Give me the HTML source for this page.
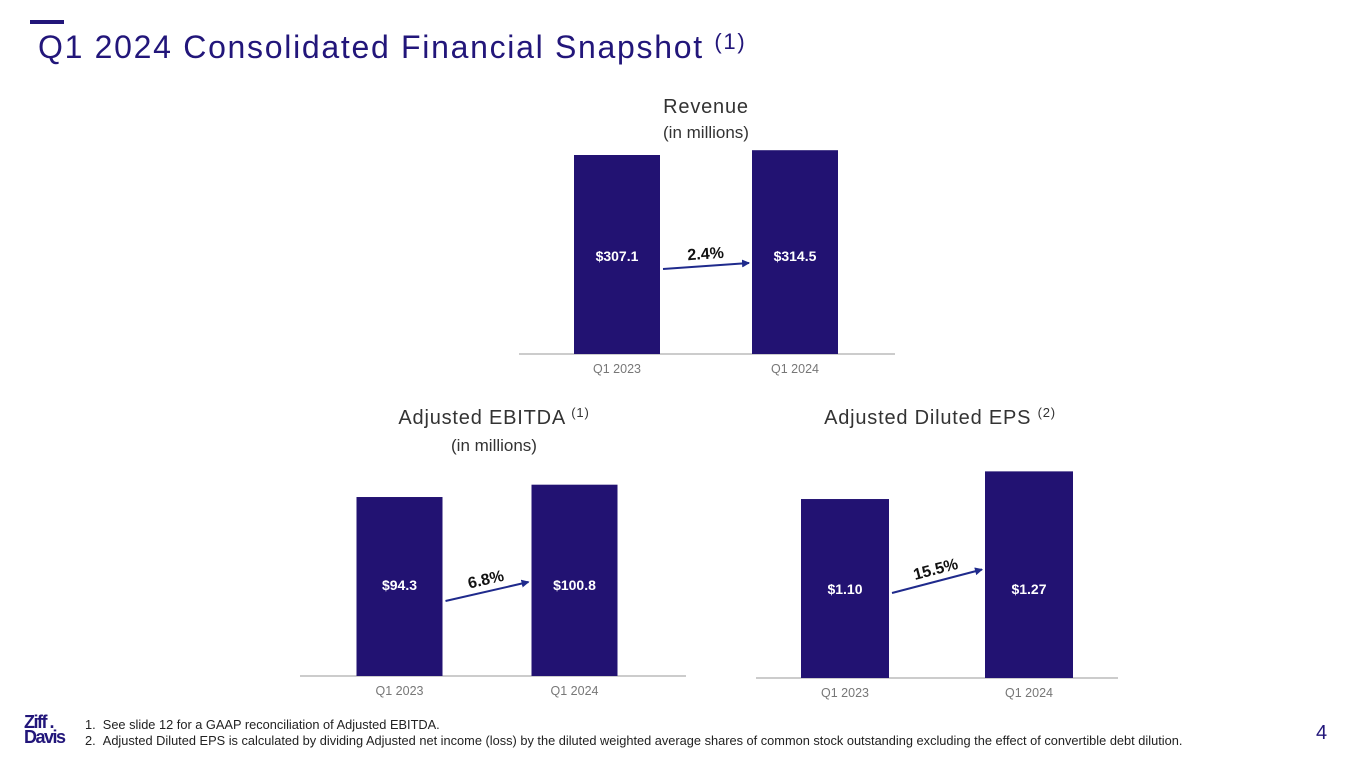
<!DOCTYPE html>
<html><head><meta charset="utf-8"><style>
body{margin:0;width:1365px;height:768px;background:#fff;font-family:"Liberation Sans",sans-serif;overflow:hidden;position:relative}
.t{position:absolute;white-space:nowrap}
</style></head><body>
<div class="t" style="left:30px;top:20px;width:34px;height:4px;background:#22167a"></div>
<div class="t" style="left:38px;top:29px;font-size:32px;color:#22167a;letter-spacing:1.7px">Q1 2024 Consolidated Financial Snapshot <span style="font-size:22px;vertical-align:top;position:relative;top:0px">(1)</span></div>
<svg id="c" width="1365" height="768" style="position:absolute;left:0;top:0">
<defs><marker id="ah" markerWidth="8" markerHeight="8" refX="7" refY="4" orient="auto" markerUnits="userSpaceOnUse"><path d="M0,0 L8,4 L0,8 z" fill="#1f2a8c"/></marker></defs>
<text x="706" y="113" text-anchor="middle" font-size="20" fill="#333" letter-spacing="0.8">Revenue</text>
<text x="706" y="138" text-anchor="middle" font-size="17" fill="#333">(in millions)</text>
<text x="494" y="424" text-anchor="middle" font-size="20" fill="#333" letter-spacing="0.8">Adjusted EBITDA <tspan font-size="13" dy="-7">(1)</tspan></text>
<text x="494" y="451" text-anchor="middle" font-size="17" fill="#333">(in millions)</text>
<text x="940" y="424" text-anchor="middle" font-size="20" fill="#333" letter-spacing="0.8">Adjusted Diluted EPS <tspan font-size="13" dy="-7">(2)</tspan></text>
</svg>
<div class="t" style="left:24px;top:715px;color:#22167a;font-weight:bold;font-size:18px;line-height:15px;letter-spacing:-1.5px">Ziff .<br>Davis</div>
<div class="t" style="left:85px;top:717px;font-size:12.8px;color:#222">1.&nbsp;&nbsp;See slide 12 for a GAAP reconciliation of Adjusted EBITDA.</div>
<div class="t" style="left:85px;top:733px;font-size:12.8px;color:#222">2.&nbsp;&nbsp;Adjusted Diluted EPS is calculated by dividing Adjusted net income (loss) by the diluted weighted average shares of common stock outstanding excluding the effect of convertible debt dilution.</div>
<div class="t" style="left:1316px;top:722px;font-size:20px;color:#22167a">4</div>
<script>
const categories=["Q1 2023","Q1 2024"];
const revenueValues=[307.1,314.5];
const revenueLabels=["$307.1","$314.5"];
const revenueGrowth="2.4%";
const ebitdaValues=[94.3,100.8];
const ebitdaLabels=["$94.3","$100.8"];
const ebitdaGrowth="6.8%";
const epsValues=[1.10,1.27];
const epsLabels=["$1.10","$1.27"];
const epsGrowth="15.5%";
const svg=document.getElementById('c');const NS='http://www.w3.org/2000/svg';
function mk(t,a){const e=document.createElementNS(NS,t);for(const k in a)e.setAttribute(k,a[k]);svg.appendChild(e);return e;}
function chart(id,vals,labels,growth,cfg){
  const y=v=>cfg.base-v*cfg.scale;
  const ax=mk('line',{x1:cfg.ax0,x2:cfg.ax1,y1:cfg.base,y2:cfg.base,stroke:'#999','stroke-width':1});
  
  
  const tops=[];
  vals.forEach((v,i)=>{
    const cx=cfg.cx[i];const top=y(v);tops.push(top);
    const r=mk('rect',{x:cx-cfg.w/2,y:top,width:cfg.w,height:cfg.base-top,fill:'#221272'});
    
    
    const lt=mk('text',{x:cx,y:cfg.labelY,'text-anchor':'middle','font-size':14,'font-weight':'bold',fill:'#fff'});lt.textContent=labels[i];
    
    
    const ct=mk('text',{x:cx,y:cfg.base+19,'text-anchor':'middle','font-size':12.5,fill:'#777'});ct.textContent=categories[i];
    
    
  });
  const x1=cfg.cx[0]+cfg.w/2+3,x2=cfg.cx[1]-cfg.w/2-3;
  const y1=cfg.labelY+cfg.a0,y2=y1-(tops[0]-tops[1])*cfg.k-cfg.a1;
  const ar=mk('line',{x1:x1,y1:y1,x2:x2,y2:y2,stroke:'#1f2a8c','stroke-width':2,'marker-end':'url(#ah)'});
  
  
  const ang=Math.atan2(y2-y1,x2-x1)*180/Math.PI;
  const mx=(x1+x2)/2,my=(y1+y2)/2-7;
  const gt=mk('text',{x:mx,y:my,'text-anchor':'middle','font-size':16,'font-weight':'bold',fill:'#111',transform:`rotate(${ang} ${mx} ${my})`});gt.textContent=growth;
  
  
}
chart('revenue',revenueValues,revenueLabels,revenueGrowth,{base:354,scale:0.648,cx:[617,795],w:86,ax0:519,ax1:895,labelY:261,a0:8,a1:6,k:0});
chart('ebitda',ebitdaValues,ebitdaLabels,ebitdaGrowth,{base:676,scale:1.898,cx:[399.5,574.5],w:86,ax0:300,ax1:686,labelY:590,a0:11,a1:19,k:0});
chart('eps',epsValues,epsLabels,epsGrowth,{base:678,scale:162.7,cx:[845,1029],w:88,ax0:756,ax1:1118,labelY:594,a0:-1,a1:0,k:0.85});
</script>
</body></html>
